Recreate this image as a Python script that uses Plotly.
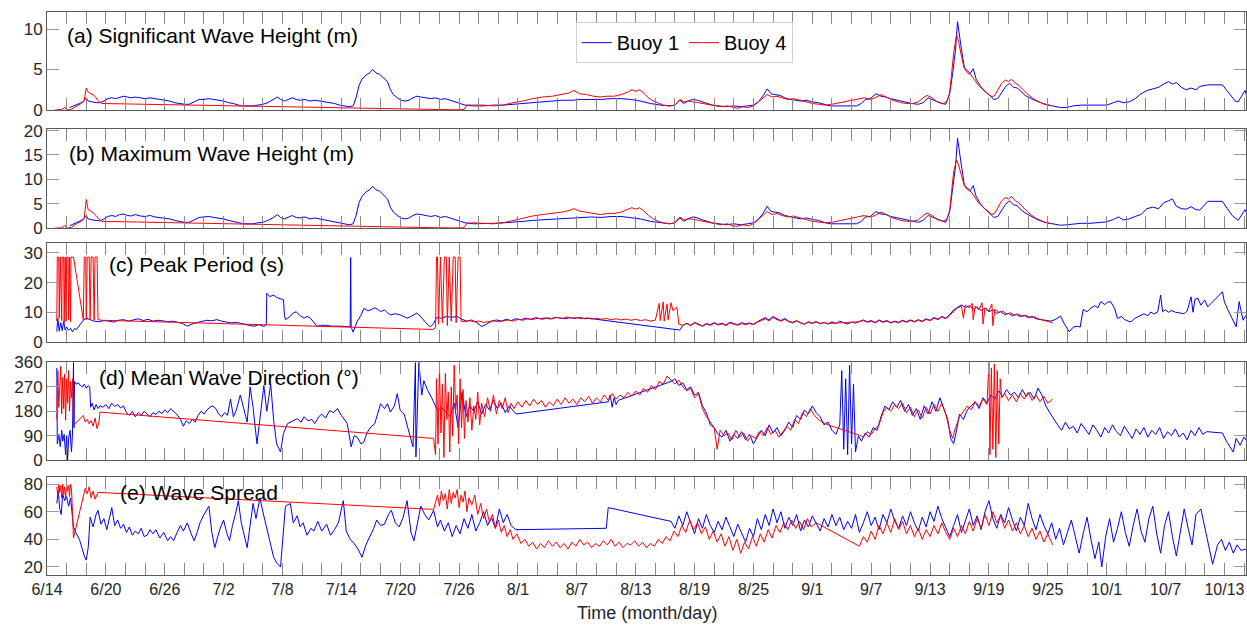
import plotly.graph_objects as go

# ---- time axis: days since 14 June ----
TICK_LABELS = ["6/14", "6/20", "6/26", "7/2", "7/8", "7/14", "7/20", "7/26", "8/1", "8/7",
               "8/13", "8/19", "8/25", "9/1", "9/7", "9/13", "9/19", "9/25", "10/1", "10/7", "10/13"]

# ---- (a) significant wave height (m): (day, value) ----
B1_HS = [(2.3,0.3),(2.8,0.6),(3.3,0.8),(3.7,1.0),(4.0,1.5),(4.2,1.1),(4.6,1.0),(5.0,0.9),(5.4,0.9),(5.8,1.1),
 (6.2,1.4),(6.6,1.5),(7.0,1.4),(7.4,1.6),(7.8,1.7),(8.2,1.6),(8.6,1.5),(9.0,1.6),(9.5,1.5),(10.0,1.4),
 (10.5,1.5),(11.0,1.4),(11.5,1.3),(12.0,1.2),(12.5,1.1),(13.0,0.9),(13.5,0.8),(14.0,0.7),(14.5,0.7),(15.0,1.0),
 (15.5,1.3),(16.0,1.3),(16.5,1.4),(17.0,1.3),(17.5,1.2),(18.0,1.1),(18.5,0.9),(19.0,0.8),(19.5,0.6),(20.0,0.5),
 (20.5,0.5),(21.0,0.5),(21.5,0.6),(22.0,0.7),(22.5,0.9),(23.0,1.2),(23.5,1.6),(23.8,1.3),(24.2,1.1),(24.6,1.3),
 (25.0,1.5),(25.4,1.3),(25.8,1.2),(26.3,1.3),(26.8,1.1),(27.3,1.2),(27.8,1.1),(28.3,1.0),(28.8,0.9),(29.3,0.8),
 (29.8,0.6),(30.3,0.5),(30.8,0.4),(31.2,0.5),(31.5,1.5),(31.8,3.0),(32.1,3.8),(32.5,4.3),(32.9,4.6),(33.2,5.0),
 (33.5,4.6),(33.9,4.4),(34.3,4.0),(34.7,3.5),(35.0,2.5),(35.3,1.9),(35.7,1.5),(36.1,1.2),(36.5,1.1),(36.9,1.2),
 (37.3,1.5),(37.7,1.7),(38.1,1.6),(38.6,1.5),(39.1,1.4),(39.6,1.5),(40.1,1.3),(40.6,1.4),(41.1,1.2),(41.6,1.0),
 (42.1,0.8),(42.6,0.6),(43.5,0.5),(44.5,0.5),(45.5,0.6),(46.5,0.6),(47.5,0.7),(48.5,0.8),(49.5,0.9),(50.5,1.0),
 (51.5,1.1),(52.5,1.2),(53.5,1.2),(54.5,1.3),(55.5,1.3),(56.5,1.3),(57.5,1.4),(58.5,1.4),(59.5,1.3),(60.5,1.1),
 (61.5,0.8),(62.5,0.6),(63.5,0.5),(64.0,0.6),(64.5,1.2),(64.9,0.8),(65.3,1.1),(65.8,1.3),(66.3,1.2),(66.8,1.0),
 (67.3,0.8),(67.8,0.6),(68.5,0.5),(69.2,0.4),(70.0,0.5),(70.7,0.4),(71.4,0.5),(72.0,0.6),(72.5,1.0),(73.0,1.8),
 (73.4,2.6),(73.8,2.0),(74.2,1.9),(74.7,1.8),(75.2,1.5),(75.7,1.3),(76.3,1.2),(76.8,1.1),(77.4,1.2),(78.0,1.0),
 (78.6,0.9),(79.2,0.7),(79.8,0.5),(80.5,0.5),(81.5,0.5),(82.5,0.5),(83.0,0.8),(83.4,1.3),(83.9,1.4),(84.5,2.0),
 (85.0,1.7),(85.5,1.6),(86.0,1.4),(86.7,1.2),(87.4,1.0),(88.1,0.8),(88.8,0.7),(89.3,0.9),(89.8,1.5),(90.2,1.3),
 (90.7,1.1),(91.2,0.8),(91.6,0.7),(92.0,2.0),(92.3,4.5),(92.6,7.5),(92.8,10.9),(93.0,9.0),(93.2,7.5),(93.5,5.2),
 (93.8,4.8),(94.1,4.5),(94.4,5.1),(94.7,3.8),(95.1,3.0),(95.5,2.4),(96.0,1.9),(96.5,1.3),(96.9,1.4),(97.3,2.2),
 (97.7,2.9),(98.1,3.3),(98.5,2.8),(98.9,2.7),(99.3,2.2),(99.7,1.8),(100.3,1.4),(101.0,1.0),(101.7,0.7),(102.5,0.5),
 (103.3,0.3),(103.9,0.3),(104.6,0.5),(105.4,0.6),(106.3,0.6),(107.2,0.6),(108.0,0.6),(108.7,0.9),(109.2,1.1),(109.7,0.9),
 (110.3,1.0),(110.9,1.4),(111.5,2.0),(112.1,2.4),(112.7,2.6),(113.3,2.8),(113.8,3.2),(114.3,3.5),(114.7,3.2),(115.1,3.4),
 (115.6,2.8),(116.1,2.5),(116.6,2.7),(117.1,2.5),(117.5,2.9),(118.3,3.1),(119.8,3.1),(120.2,2.5),(120.7,1.8),(121.1,1.1),
 (121.4,1.0),(121.8,1.9),(122.1,2.4),(122.3,1.7)]

B4_HS = [(0.8,0.0),(1.5,0.05),(1.8,0.3),(2.0,0.0),(2.5,0.1),(3.0,0.5),(3.5,0.8),(3.8,1.2),(4.0,2.7),(4.2,2.2),
 (4.5,2.0),(4.8,1.8),(5.0,1.5),(5.3,1.0),(5.6,0.8),(39.5,0.05),(40.5,0.0),(41.5,0.02),(42.5,0.05),(42.8,0.6),
 (43.5,0.6),(44.5,0.6),(45.5,0.5),(46.5,0.6),(47.5,0.9),(48.5,1.1),(49.5,1.4),(50.5,1.6),(51.5,1.7),(52.5,1.9),
 (53.2,2.1),(53.7,2.4),(54.3,2.0),(55.0,1.9),(55.7,1.7),(56.4,1.6),(57.1,1.7),(57.8,1.7),(58.5,1.9),(59.2,2.2),
 (59.6,2.5),(60.0,2.3),(60.4,2.5),(60.8,2.1),(61.3,1.5),(61.8,1.1),(62.3,0.8),(62.8,0.6),(63.4,0.5),(64.0,0.6),
 (64.5,1.3),(64.9,1.0),(65.4,1.1),(65.9,1.0),(66.4,0.9),(66.9,0.8),(67.5,0.6),(68.1,0.5),(68.7,0.4),(69.3,0.5),
 (69.9,0.3),(70.4,0.2),(70.9,0.4),(71.5,0.3),(72.0,0.5),(72.5,1.0),(73.0,1.6),(73.4,1.9),(73.9,1.6),(74.4,1.7),
 (74.9,1.5),(75.5,1.3),(76.1,1.4),(76.7,1.2),(77.3,1.0),(78.0,0.8),(78.7,0.7),(79.3,0.6),(80.0,0.7),(82.5,1.3),
 (83.3,1.5),(83.9,1.3),(84.4,1.5),(85.0,1.9),(85.5,1.6),(86.2,1.2),(87.0,0.9),(87.6,0.8),(88.2,0.8),(88.8,1.0),
 (89.3,1.5),(89.7,1.8),(90.2,1.5),(90.7,1.0),(91.3,0.8),(91.7,1.0),(92.0,2.1),(92.4,7.0),(92.7,9.3),(92.9,8.5),
 (93.2,6.6),(93.5,5.1),(93.8,4.6),(94.2,4.3),(94.6,3.6),(94.9,3.1),(95.4,2.5),(95.9,2.0),(96.3,1.6),(96.6,1.8),
 (96.9,2.5),(97.3,3.3),(97.7,3.7),(98.0,3.5),(98.3,3.8),(98.7,3.3),(99.0,3.1),(99.4,2.6),(99.9,2.0),(100.4,1.5),
 (100.9,1.1),(101.5,0.8),(102.0,0.6),(102.4,0.5)]

# ---- (b) maximum wave height (m) ----
B1_HMAX = [(2.3,0.5),(2.8,1.0),(3.3,1.4),(3.7,1.8),(4.0,2.6),(4.2,1.9),(4.6,1.7),(5.0,1.6),(5.4,1.5),(5.8,1.9),
 (6.2,2.4),(6.6,2.6),(7.0,2.4),(7.4,2.8),(7.8,2.9),(8.2,2.6),(8.6,2.5),(9.0,2.8),(9.5,2.5),(10.0,2.4),
 (10.5,2.6),(11.0,2.3),(11.5,2.2),(12.0,2.1),(12.5,1.9),(13.0,1.6),(13.5,1.4),(14.0,1.2),(14.5,1.2),(15.0,1.7),
 (15.5,2.2),(16.0,2.3),(16.5,2.4),(17.0,2.2),(17.5,2.1),(18.0,1.9),(18.5,1.6),(19.0,1.4),(19.5,1.1),(20.0,0.9),
 (20.5,0.9),(21.0,0.9),(21.5,1.1),(22.0,1.2),(22.5,1.6),(23.0,2.1),(23.5,2.8),(23.8,2.2),(24.2,1.9),(24.6,2.3),
 (25.0,2.6),(25.4,2.2),(25.8,2.1),(26.3,2.3),(26.8,1.9),(27.3,2.1),(27.8,1.9),(28.3,1.8),(28.8,1.6),(29.3,1.4),
 (29.8,1.1),(30.3,0.9),(30.8,0.7),(31.2,0.9),(31.5,2.6),(31.8,5.2),(32.1,6.5),(32.5,7.4),(32.9,7.9),(33.2,8.6),
 (33.5,7.9),(33.9,7.6),(34.3,6.9),(34.7,6.0),(35.0,4.3),(35.3,3.3),(35.7,2.6),(36.1,2.1),(36.5,1.9),(36.9,2.1),
 (37.3,2.6),(37.7,2.9),(38.1,2.8),(38.6,2.6),(39.1,2.4),(39.6,2.6),(40.1,2.2),(40.6,2.4),(41.1,2.1),(41.6,1.7),
 (42.1,1.4),(42.6,1.1),(43.5,0.9),(44.5,0.9),(45.5,1.0),(46.5,1.1),(47.5,1.2),(48.5,1.4),(49.5,1.6),(50.5,1.7),
 (51.5,1.9),(52.5,2.0),(53.5,2.1),(54.5,2.2),(55.5,2.3),(56.5,2.2),(57.5,2.4),(58.5,2.4),(59.5,2.2),(60.5,1.9),
 (61.5,1.4),(62.5,1.1),(63.5,0.9),(64.0,1.1),(64.5,2.1),(64.9,1.4),(65.3,1.9),(65.8,2.3),(66.3,2.1),(66.8,1.7),
 (67.3,1.4),(67.8,1.1),(68.5,0.9),(69.2,0.7),(70.0,0.9),(70.7,0.7),(71.4,0.9),(72.0,1.1),(72.5,1.8),(73.0,3.1),
 (73.4,4.5),(73.8,3.4),(74.2,3.3),(74.7,3.1),(75.2,2.6),(75.7,2.3),(76.3,2.1),(76.8,1.9),(77.4,2.1),(78.0,1.8),
 (78.6,1.6),(79.2,1.2),(79.8,0.9),(80.5,0.9),(81.5,0.9),(82.5,0.9),(83.0,1.4),(83.4,2.3),(83.9,2.4),(84.5,3.4),
 (85.0,2.9),(85.5,2.8),(86.0,2.4),(86.7,2.1),(87.4,1.7),(88.1,1.4),(88.8,1.2),(89.3,1.6),(89.8,2.6),(90.2,2.3),
 (90.7,1.9),(91.2,1.4),(91.6,1.2),(92.0,3.4),(92.3,7.7),(92.6,12.8),(92.8,18.4),(93.0,15.3),(93.2,12.8),(93.5,8.8),
 (93.8,8.2),(94.1,7.7),(94.4,8.7),(94.7,6.5),(95.1,5.1),(95.5,4.1),(96.0,3.2),(96.5,2.2),(96.9,2.4),(97.3,3.7),
 (97.7,4.9),(98.1,5.6),(98.5,4.8),(98.9,4.6),(99.3,3.7),(99.7,3.1),(100.3,2.4),(101.0,1.7),(101.7,1.2),(102.5,0.9),
 (103.3,0.6),(103.9,0.7),(104.6,0.9),(105.4,1.0),(106.3,1.0),(107.2,1.1),(108.0,1.3),(108.7,1.8),(109.2,2.3),(109.7,1.7),
 (110.3,1.9),(110.9,2.4),(111.5,2.8),(112.1,4.0),(112.7,4.3),(113.3,4.0),(113.8,5.2),(114.3,5.6),(114.7,6.0),(115.1,4.5),
 (115.6,4.0),(116.1,3.9),(116.6,4.4),(117.1,3.8),(117.5,3.7),(118.3,5.5),(119.8,5.5),(120.3,4.0),(120.8,2.6),(121.4,1.6),
 (121.8,3.0),(122.1,3.8),(122.3,3.0)]

B4_HMAX = [(0.8,0.0),(1.5,0.1),(1.8,0.6),(2.0,0.0),(2.5,0.2),(3.0,0.9),(3.5,1.4),(3.8,2.1),(4.0,5.9),(4.2,3.8),
 (4.5,3.5),(4.8,3.0),(5.0,2.6),(5.3,1.8),(5.6,1.4),(39.5,0.1),(40.5,0.0),(41.5,0.05),(42.5,0.1),(42.8,1.0),
 (43.5,1.1),(44.5,1.0),(45.5,0.9),(46.5,1.1),(47.5,1.6),(48.5,2.0),(49.5,2.5),(50.5,2.8),(51.5,3.0),(52.5,3.3),
 (53.2,3.6),(53.7,4.0),(54.3,3.5),(55.0,3.3),(55.7,3.0),(56.4,2.8),(57.1,3.0),(57.8,3.0),(58.5,3.3),(59.2,3.8),
 (59.6,4.2),(60.0,3.9),(60.4,4.2),(60.8,3.6),(61.3,2.6),(61.8,1.9),(62.3,1.4),(62.8,1.1),(63.4,0.9),(64.0,1.1),
 (64.5,2.3),(64.9,1.7),(65.4,1.9),(65.9,1.8),(66.4,1.6),(66.9,1.4),(67.5,1.1),(68.1,0.9),(68.7,0.7),(69.3,0.9),
 (69.9,0.5),(70.4,0.4),(70.9,0.7),(71.5,0.5),(72.0,0.9),(72.5,1.8),(73.0,2.8),(73.4,3.4),(73.9,2.8),(74.4,3.0),
 (74.9,2.6),(75.5,2.3),(76.1,2.5),(76.7,2.1),(77.3,1.8),(78.0,1.4),(78.7,1.2),(79.3,1.1),(80.0,1.2),(82.5,2.2),
 (83.3,2.6),(83.9,2.3),(84.4,2.6),(85.0,3.3),(85.5,2.8),(86.2,2.1),(87.0,1.6),(87.6,1.4),(88.2,1.4),(88.8,1.7),
 (89.3,2.6),(89.7,3.1),(90.2,2.6),(90.7,1.8),(91.3,1.4),(91.7,1.8),(92.0,3.6),(92.4,11.5),(92.7,14.0),(92.9,13.0),
 (93.2,10.8),(93.5,8.7),(93.8,7.9),(94.2,7.4),(94.6,6.2),(94.9,5.3),(95.4,4.3),(95.9,3.4),(96.3,2.8),(96.6,3.1),
 (96.9,4.3),(97.3,5.6),(97.7,6.3),(98.0,6.0),(98.3,6.5),(98.7,5.6),(99.0,5.3),(99.4,4.4),(99.9,3.4),(100.4,2.6),
 (100.9,1.9),(101.5,1.4),(102.0,1.0),(102.4,0.9)]

# ---- (c) peak period (s) ----
B1_TP = [(1.0,3.5),(1.1,8.0),(1.25,3.6),(1.4,6.5),(1.55,3.8),(1.7,7.0),(1.85,4.0),(2.0,5.0),(2.2,3.9),(2.4,4.6),
 (2.6,3.4),(2.8,4.5),(3.0,4.2),(3.2,5.0),(3.4,6.0),(3.7,7.3),(4.0,8.0),(4.4,7.4),(4.8,7.0),(5.3,6.8),
 (5.8,7.2),(6.3,7.0),(6.8,6.7),(7.3,7.3),(7.8,7.5),(8.3,7.0),(8.8,7.4),(9.3,7.8),(9.8,7.2),(10.3,7.6),
 (10.8,7.0),(11.3,7.3),(11.8,7.1),(12.3,6.8),(12.8,7.0),(13.3,6.6),(13.8,6.2),(14.3,5.3),(14.6,5.8),(14.9,6.2),
 (15.4,6.6),(15.9,7.0),(16.3,7.3),(16.8,7.1),(17.3,7.5),(17.8,7.0),(18.3,6.8),(18.8,6.4),(19.3,6.6),(19.7,6.2),
 (20.2,5.9),(20.7,5.5),(21.1,5.3),(21.6,5.8),(22.1,5.2),(22.35,5.8),(22.4,16.4),(22.7,15.3),(23.1,15.8),(23.4,15.0),
 (23.7,14.7),(24.1,14.2),(24.2,9.0),(24.3,7.5),(24.7,8.4),(25.1,9.7),(25.4,10.2),(25.8,8.8),(26.2,8.0),(26.5,8.6),
 (26.8,8.2),(27.1,7.0),(27.5,5.3),(28.0,5.6),(28.5,5.6),(29.0,5.3),(29.5,5.4),(29.9,5.3),(30.4,5.2),(30.9,5.1),
 (30.95,28.5),(31.0,5.0),(31.2,3.3),(31.6,6.8),(32.0,9.0),(32.3,11.3),(32.7,10.5),(33.0,10.8),(33.4,11.5),(33.7,11.0),
 (34.0,10.2),(34.4,10.8),(34.7,9.8),(35.0,9.1),(35.5,9.5),(36.0,9.1),(36.4,8.5),(36.7,8.0),(37.1,8.6),(37.7,9.7),
 (38.0,8.8),(38.4,7.3),(38.8,5.8),(39.1,5.1),(39.4,6.2),(39.7,8.2),(40.2,8.0),(40.7,8.6),(41.2,8.3),(41.8,8.6),
 (42.3,7.6),(42.8,7.0),(43.3,7.4),(43.8,6.5),(44.3,5.2),(44.8,6.0),(45.3,7.0),(45.8,7.4),(46.3,7.0),(46.8,7.6),
 (47.3,7.2),(47.8,7.8),(48.3,7.5),(48.8,8.0),(49.3,7.6),(49.8,8.2),(50.3,7.8),(50.8,8.1),(51.3,7.7),(51.8,8.3),
 (52.3,8.0),(52.8,7.8),(53.3,8.2),(53.8,7.9),(54.3,8.3),(54.8,7.8),(55.3,8.0),(55.8,7.7),(64.5,4.0),(64.8,5.5),
 (65.2,6.3),(65.6,5.6),(66.0,6.6),(66.4,6.0),(66.8,5.4),(67.2,6.2),(67.6,5.8),(68.0,6.5),(68.4,5.9),(68.8,6.3),
 (69.2,5.7),(69.6,6.6),(70.0,6.1),(70.4,5.8),(70.8,6.5),(71.2,6.0),(71.6,6.4),(72.0,5.9),(72.4,6.8),(72.8,7.5),
 (73.2,8.2),(73.6,7.4),(74.0,8.6),(74.4,7.8),(74.8,7.2),(75.2,7.9),(75.6,7.0),(76.0,6.6),(76.4,7.2),(76.8,6.5),
 (77.2,6.0),(77.6,6.8),(78.0,6.3),(78.4,6.9),(78.8,6.2),(79.2,6.6),(79.6,6.0),(80.0,6.8),(80.4,6.2),(80.8,7.0),
 (81.2,6.4),(81.6,6.0),(82.0,6.7),(82.4,6.3),(82.8,6.9),(83.2,7.4),(83.6,6.8),(84.0,7.2),(84.4,6.6),(84.8,7.4),
 (85.2,6.8),(85.6,7.2),(86.0,6.5),(86.4,7.0),(86.8,6.6),(87.2,7.3),(87.6,6.8),(88.0,7.4),(88.4,6.9),(88.8,7.5),
 (89.2,7.0),(89.6,7.8),(90.0,7.3),(90.4,8.2),(90.8,7.7),(91.2,8.6),(91.6,8.0),(92.0,9.2),(92.4,10.8),(92.8,11.8),
 (93.2,12.5),(93.6,11.6),(94.0,12.2),(94.4,11.0),(94.8,11.8),(95.2,10.6),(95.6,11.4),(96.0,10.2),(96.4,10.8),(96.8,9.6),
 (97.2,10.2),(97.6,9.2),(98.0,9.6),(98.4,8.8),(98.8,9.3),(99.2,8.5),(99.6,9.0),(100.0,8.2),(100.4,8.6),(100.8,7.8),
 (101.3,7.5),(101.8,7.2),(102.3,7.0),(102.8,7.6),(103.3,8.7),(103.7,6.0),(104.2,3.4),(104.6,5.0),(105.0,5.3),(105.3,5.0),
 (105.6,10.9),(106.0,10.2),(106.4,11.4),(106.8,12.2),(107.1,11.5),(107.4,13.6),(107.8,12.6),(108.1,13.4),(108.4,13.6),(108.8,11.4),
 (109.1,7.9),(109.5,8.6),(109.8,7.6),(110.2,7.0),(110.5,6.8),(110.8,7.8),(111.2,8.4),(111.5,9.0),(111.8,9.5),(112.2,8.8),
 (112.5,10.1),(112.8,9.4),(113.2,10.1),(113.5,15.8),(113.7,10.2),(114.0,10.8),(114.3,10.0),(114.6,10.6),(115.0,10.0),(115.4,9.8),
 (115.9,9.5),(116.2,10.4),(116.6,15.2),(116.8,10.0),(117.0,14.4),(117.3,14.7),(117.6,12.4),(118.0,14.1),(118.3,11.8),(119.8,16.9),
 (120.0,13.5),(120.4,10.5),(120.8,8.0),(121.2,5.1),(121.5,13.6),(121.9,7.3),(122.2,9.0)]

B4_TP = [(1.0,7.0),(1.05,28.6),(1.2,28.6),(1.25,8.0),(1.35,28.6),(1.5,7.2),(1.55,28.6),(1.7,28.6),(1.75,6.5),(1.85,28.6),
 (1.95,7.0),(2.0,28.6),(2.15,28.6),(2.2,7.5),(2.3,28.6),(2.4,6.8),(2.45,28.6),(2.7,28.6),(3.7,7.5),(3.8,28.6),
 (3.95,28.6),(4.0,7.5),(4.1,28.6),(4.3,28.6),(4.4,7.6),(4.5,28.6),(4.7,28.6),(4.8,7.4),(4.9,28.6),(5.1,28.6),
 (5.2,7.5),(5.6,7.3),(39.4,4.2),(39.6,5.0),(39.7,28.6),(39.8,28.6),(39.9,6.0),(40.1,28.6),(40.3,6.5),(40.5,28.6),
 (40.7,28.6),(40.8,5.5),(41.0,28.6),(41.2,7.0),(41.4,28.6),(41.6,28.6),(41.7,6.5),(41.9,28.6),(42.1,28.6),(42.2,7.0),
 (42.6,6.8),(43.0,7.2),(43.5,6.8),(44.0,7.0),(44.5,6.6),(45.0,6.9),(45.5,7.1),(46.0,6.8),(46.5,7.2),(47.0,7.4),
 (47.5,7.0),(48.0,7.6),(48.5,7.3),(49.0,7.8),(49.5,7.5),(50.0,8.0),(50.5,7.6),(51.0,8.1),(51.5,7.8),(52.0,8.3),
 (52.5,7.9),(53.0,8.4),(53.5,8.0),(54.0,8.2),(54.5,7.8),(55.0,8.1),(55.5,7.7),(56.0,8.0),(56.5,7.6),(57.0,7.9),
 (57.5,7.5),(58.0,7.8),(58.5,7.4),(59.0,7.7),(59.5,7.3),(60.0,7.6),(60.5,7.2),(61.0,7.5),(61.5,7.0),(62.0,7.3),
 (62.4,13.0),(62.5,7.2),(62.8,13.5),(62.9,7.0),(63.2,12.8),(63.3,7.4),(63.6,13.2),(63.8,10.5),(64.2,11.8),(64.4,6.0),
 (64.8,5.6),(65.2,6.2),(65.6,5.5),(66.0,6.4),(66.4,5.8),(66.8,5.3),(67.2,6.0),(67.6,5.6),(68.0,6.3),(68.4,5.7),
 (68.8,6.1),(69.2,5.5),(69.6,6.4),(70.0,5.9),(70.4,5.6),(70.8,6.2),(71.2,5.8),(71.6,6.2),(72.0,5.8),(72.4,6.6),
 (72.8,7.2),(73.2,7.8),(73.6,7.1),(74.0,8.2),(74.4,7.5),(74.8,7.0),(75.2,7.6),(75.6,6.8),(76.0,6.4),(76.4,7.0),
 (76.8,6.4),(77.2,6.0),(77.6,6.6),(78.0,6.2),(78.4,6.7),(78.8,6.1),(79.2,6.5),(79.6,6.2),(82.8,6.8),(83.2,7.2),
 (83.6,6.6),(84.0,7.0),(84.4,6.4),(84.8,7.2),(85.2,6.6),(85.6,7.0),(86.0,6.4),(86.4,6.8),(86.8,6.4),(87.2,7.1),
 (87.6,6.6),(88.0,7.2),(88.4,6.7),(88.8,7.3),(89.2,6.8),(89.6,7.6),(90.0,7.1),(90.4,8.0),(90.8,7.5),(91.2,8.4),
 (91.6,7.8),(92.0,9.0),(92.4,10.5),(92.8,11.5),(93.2,12.0),(93.4,8.0),(93.6,12.4),(94.0,11.5),(94.3,13.0),(94.4,7.5),
 (94.6,12.0),(95.0,10.8),(95.3,13.2),(95.4,6.0),(95.6,11.5),(96.0,10.5),(96.3,12.8),(96.4,5.5),(96.6,11.0),(97.0,10.0),
 (97.4,10.4),(97.8,9.4),(98.2,9.8),(98.6,9.0),(99.0,9.4),(99.4,8.6),(99.8,9.0),(100.2,8.2),(100.6,8.5),(101.0,7.8),
 (101.4,7.4),(101.8,7.0),(102.2,6.8),(102.5,6.5)]

# ---- (d) mean wave direction (deg) ----
B1_DIR = [(1.0,340),(1.05,60),(1.2,95),(1.35,50),(1.5,110),(1.6,70),(1.75,95),(1.9,20),(2.0,90),(2.1,0),
 (2.2,80),(2.35,110),(2.5,30),(2.6,100),(2.7,360),(2.75,120),(2.8,290),(3.0,280),(3.2,285),(3.4,275),
 (3.6,270),(3.8,280),(4.0,265),(4.2,275),(4.35,270),(4.45,195),(4.6,210),(4.8,185),(5.0,205),(5.2,190),
 (5.4,200),(5.7,195),(6.0,205),(6.3,190),(6.6,210),(6.9,198),(7.2,205),(7.5,192),(7.8,200),(8.1,175),
 (8.4,165),(8.7,180),(9.0,160),(9.3,175),(9.6,165),(9.9,180),(10.2,170),(10.5,160),(10.8,175),(11.1,168),
 (11.4,180),(11.7,172),(12.0,185),(12.3,175),(12.6,190),(12.9,180),(13.2,170),(13.6,150),(13.9,125),(14.2,145),
 (14.5,135),(14.8,150),(15.1,140),(15.4,165),(15.7,180),(16.0,170),(16.3,185),(16.6,195),(16.9,200),(17.2,190),
 (17.5,170),(17.8,160),(18.1,175),(18.4,165),(18.7,225),(19.0,160),(19.3,185),(19.7,240),(20.0,195),(20.4,140),
 (20.7,270),(21.0,195),(21.4,60),(21.7,150),(22.1,275),(22.4,180),(22.8,280),(23.1,147),(23.4,60),(23.8,30),
 (24.1,98),(24.5,134),(24.8,140),(25.2,150),(25.5,153),(25.9,140),(26.2,160),(26.6,145),(27.0,150),(27.3,135),
 (27.7,160),(28.0,170),(28.4,155),(28.8,183),(29.2,175),(29.6,190),(30.0,165),(30.6,135),(31.0,49),(31.3,90),
 (31.6,85),(32.0,60),(32.3,67),(32.6,100),(33.0,122),(33.4,134),(34.0,208),(34.4,190),(34.7,208),(35.0,177),
 (35.4,200),(35.7,245),(36.0,183),(36.4,170),(37.0,85),(37.3,49),(37.55,360),(37.6,12),(37.9,360),(38.2,240),
 (38.4,293),(38.8,257),(39.2,230),(39.8,183),(40.2,195),(40.7,177),(41.1,160),(41.5,210),(41.9,120),(42.3,250),
 (42.7,160),(43.1,200),(43.5,180),(43.9,215),(44.3,170),(44.7,205),(45.1,185),(45.5,220),(45.9,190),(46.3,210),
 (46.7,175),(47.1,200),(47.5,185),(47.8,170),(57.2,215),(57.4,240),(57.6,195),(57.8,230),(58.0,205),(58.2,220),
 (63.6,290),(64.0,300),(64.4,275),(64.8,285),(65.2,260),(65.6,270),(66.0,240),(66.4,250),(66.8,200),(67.2,175),
 (67.6,130),(68.0,120),(68.4,95),(68.8,85),(69.2,110),(69.6,70),(70.0,95),(70.4,80),(70.8,105),(71.2,75),
 (71.6,95),(72.0,60),(72.4,85),(72.8,110),(73.2,90),(73.6,130),(74.0,100),(74.4,120),(74.8,90),(75.2,110),
 (75.6,140),(76.0,120),(76.4,165),(76.8,150),(77.2,185),(77.6,170),(78.0,200),(78.4,175),(78.8,160),(79.2,130),
 (79.6,140),(80.0,110),(80.4,95),(80.8,130),(81.0,330),(81.2,40),(81.4,300),(81.6,20),(81.8,350),(82.0,60),
 (82.2,280),(82.4,30),(82.7,90),(83.0,70),(83.4,100),(83.8,85),(84.2,120),(84.6,110),(85.0,160),(85.4,200),
 (85.8,185),(86.2,215),(86.6,195),(87.0,220),(87.4,180),(87.8,205),(88.2,165),(88.6,190),(89.0,150),(89.4,200),
 (89.8,170),(90.2,215),(90.6,180),(91.0,230),(91.4,190),(91.8,150),(92.1,80),(92.4,60),(92.7,110),(93.0,170),
 (93.4,150),(93.8,185),(94.2,200),(94.6,215),(95.0,190),(95.4,230),(95.8,210),(96.2,240),(96.6,225),(97.0,255),
 (97.4,235),(97.8,260),(98.2,240),(98.6,250),(99.0,230),(99.4,260),(99.8,235),(100.2,250),(100.6,225),(101.0,265),
 (101.4,240),(101.8,200),(102.2,175),(102.6,150),(103.0,130),(103.4,110),(103.8,140),(104.2,115),(104.6,125),(105.0,100),
 (105.4,135),(105.8,115),(106.2,95),(106.6,130),(107.0,110),(107.4,85),(107.8,120),(108.2,100),(108.6,130),(109.0,105),
 (109.4,90),(109.8,125),(110.2,100),(110.6,80),(111.0,115),(111.4,95),(111.8,120),(112.2,85),(112.6,110),(113.0,95),
 (113.4,120),(113.8,80),(114.2,105),(114.6,90),(115.0,115),(115.4,85),(115.8,100),(116.2,75),(116.6,110),(117.0,90),
 (117.4,120),(117.8,95),(118.2,105),(119.8,100),(120.2,70),(120.6,45),(120.9,30),(121.2,80),(121.6,55),(122.0,85),
 (122.3,70)]

B4_DIR = [(1.0,150),(1.1,330),(1.2,195),(1.3,270),(1.4,345),(1.5,171),(1.6,306),(1.7,190),(1.8,318),(1.9,147),
 (2.0,300),(2.1,210),(2.2,330),(2.3,180),(2.4,290),(2.5,230),(2.6,300),(2.7,128),(3.7,165),(3.9,140),
 (4.1,150),(4.3,134),(4.5,146),(4.7,125),(4.9,155),(5.1,116),(5.3,140),(5.4,177),(39.4,80),(39.6,20),
 (39.7,300),(39.85,60),(40.0,340),(40.15,100),(40.3,280),(40.45,10),(40.6,320),(40.75,150),(40.9,250),(41.05,30),
 (41.2,270),(41.35,90),(41.5,350),(41.65,180),(41.8,240),(41.95,60),(42.1,300),(42.25,120),(42.4,260),(42.55,80),
 (42.7,220),(42.9,140),(43.1,230),(43.3,110),(43.5,200),(43.7,150),(43.9,250),(44.1,130),(44.3,210),(44.6,160),
 (44.9,230),(45.2,180),(45.5,240),(45.8,170),(46.1,220),(46.4,190),(46.7,230),(47.0,175),(47.3,210),(47.6,190),
 (48.0,215),(48.4,195),(48.8,220),(49.2,200),(49.6,225),(50.0,205),(50.4,220),(50.8,195),(51.2,215),(51.6,200),
 (52.0,225),(52.4,205),(52.8,230),(53.2,210),(53.6,225),(54.0,205),(54.4,230),(54.8,215),(55.2,235),(55.6,210),
 (56.0,230),(56.4,215),(56.8,240),(57.2,220),(57.6,245),(58.0,225),(58.4,240),(58.8,230),(59.2,250),(59.6,235),
 (60.0,255),(60.4,240),(60.8,265),(61.2,250),(61.6,275),(62.0,260),(62.4,290),(62.8,280),(63.2,310),(63.6,295),
 (64.0,280),(64.4,295),(64.8,270),(65.2,255),(65.6,265),(66.0,230),(66.4,245),(66.8,190),(67.2,160),(67.6,140),
 (68.0,120),(68.3,40),(68.6,110),(69.0,90),(69.4,100),(69.8,75),(70.2,110),(70.6,85),(71.0,100),(71.4,70),
 (71.8,90),(72.2,80),(72.6,105),(73.0,90),(73.4,120),(73.8,95),(74.2,110),(74.6,85),(75.0,105),(75.4,125),
 (75.8,110),(76.2,150),(76.6,135),(77.0,175),(77.4,160),(77.8,190),(78.2,165),(78.6,150),(79.0,140),(79.6,130),
 (82.8,92),(83.2,85),(83.6,105),(84.0,95),(84.4,115),(84.8,130),(85.2,175),(85.6,195),(86.0,180),(86.4,205),
 (86.8,190),(87.2,210),(87.6,175),(88.0,195),(88.4,160),(88.8,185),(89.2,155),(89.6,195),(90.0,170),(90.4,205),
 (90.8,180),(91.2,210),(91.6,170),(92.0,110),(92.3,80),(92.6,120),(93.0,160),(93.4,180),(93.8,200),(94.2,185),
 (94.6,215),(95.0,200),(95.4,225),(95.8,205),(96.0,360),(96.1,20),(96.25,340),(96.4,40),(96.55,355),(96.7,10),
 (96.85,330),(97.0,60),(97.15,300),(97.3,230),(97.6,245),(98.0,220),(98.4,240),(98.8,215),(99.2,245),(99.6,225),
 (100.0,250),(100.4,220),(100.8,240),(101.2,215),(101.6,235),(102.0,210),(102.5,225)]

# ---- (e) wave spread (deg) ----
B1_SPR = [(1.0,66),(1.15,75),(1.3,62),(1.45,58),(1.6,73),(1.8,68),(2.0,71),(2.2,64),(2.4,70),(2.7,49),
 (3.0,44),(3.3,40),(3.6,33),(3.8,28),(4.0,25),(4.2,34),(4.4,56),(4.7,49),(5.0,58),(5.2,61),
 (5.5,51),(5.8,55),(6.1,47),(6.4,58),(6.6,63),(6.9,50),(7.2,54),(7.5,48),(7.8,51),(8.1,45),
 (8.4,49),(8.7,43),(9.0,46),(9.3,44),(9.6,48),(9.9,42),(10.2,43),(10.5,47),(10.8,44),(11.1,47),
 (11.5,41),(11.9,45),(12.3,39),(12.6,42),(12.9,39),(13.2,44),(13.6,50),(13.9,46),(14.3,52),(14.7,44),
 (15.0,39),(15.3,45),(15.6,52),(16.0,58),(16.5,64),(16.8,45),(17.1,34),(17.4,42),(17.7,49),(18.0,54),
 (18.3,45),(18.6,39),(18.9,50),(19.2,58),(19.5,68),(19.8,52),(20.1,44),(20.4,34),(20.7,50),(21.0,66),
 (21.3,55),(21.7,70),(22.0,60),(22.4,49),(22.8,36),(23.1,27),(23.4,23),(23.8,20),(24.1,44),(24.3,64),
 (24.8,66),(25.1,52),(25.5,57),(25.8,49),(26.1,52),(26.5,43),(26.9,48),(27.2,46),(27.6,53),(28.0,46),
 (28.5,51),(28.9,43),(29.3,47),(29.7,52),(30.2,68),(30.5,46),(30.9,40),(31.3,37),(31.7,33),(32.1,27),
 (32.5,36),(32.9,42),(33.3,48),(33.6,54),(34.0,50),(34.4,51),(34.8,58),(35.1,61),(35.5,52),(35.9,49),
 (36.3,56),(36.7,68),(37.1,45),(37.4,39),(37.8,52),(38.1,64),(38.5,58),(38.9,54),(39.4,61),(39.8,49),
 (40.1,54),(40.5,46),(40.9,52),(41.3,42),(41.7,50),(42.1,44),(42.5,55),(42.9,48),(43.3,58),(43.7,46),
 (44.1,52),(44.5,60),(44.9,50),(45.3,56),(45.7,48),(46.1,62),(46.5,52),(46.9,58),(47.3,50),(47.8,47),
 (57.0,48),(57.2,63),(63.6,53),(64.0,48),(64.4,57),(64.8,50),(65.2,60),(65.6,52),(66.0,44),(66.4,55),
 (66.8,48),(67.2,58),(67.6,50),(68.0,45),(68.4,53),(68.8,47),(69.2,56),(69.6,49),(70.0,42),(70.4,51),
 (70.8,45),(71.2,38),(71.6,48),(72.0,42),(72.4,55),(72.8,47),(73.2,58),(73.6,50),(74.0,62),(74.4,52),
 (74.8,60),(75.2,48),(75.6,56),(76.0,50),(76.4,58),(76.8,46),(77.2,54),(77.6,49),(78.0,57),(78.4,51),
 (78.8,46),(79.2,55),(79.6,49),(80.0,58),(80.4,50),(80.8,56),(81.2,47),(81.6,53),(82.0,48),(82.4,58),
 (82.8,45),(83.2,52),(83.6,60),(84.0,50),(84.4,56),(84.8,47),(85.2,58),(85.6,52),(86.0,62),(86.4,53),
 (86.8,48),(87.2,57),(87.6,50),(88.0,60),(88.4,52),(88.8,46),(89.2,56),(89.6,49),(90.0,60),(90.4,53),
 (90.8,64),(91.2,55),(91.6,48),(92.0,42),(92.4,50),(92.8,58),(93.2,45),(93.6,54),(94.0,62),(94.4,50),
 (94.8,57),(95.2,47),(95.6,60),(96.0,68),(96.4,55),(96.8,48),(97.2,58),(97.6,52),(98.0,63),(98.4,54),
 (98.8,46),(99.2,56),(99.6,50),(100.0,66),(100.4,55),(100.8,47),(101.2,58),(101.6,50),(102.0,44),(102.4,52),
 (102.8,40),(103.2,48),(103.6,36),(104.0,45),(104.4,54),(104.8,42),(105.2,30),(105.6,44),(106.0,56),(106.4,40),
 (106.8,26),(107.2,38),(107.5,20),(107.9,42),(108.3,55),(108.7,38),(109.1,48),(109.5,60),(109.9,45),(110.3,35),
 (110.7,50),(111.1,62),(111.5,46),(111.9,38),(112.3,55),(112.7,64),(113.1,44),(113.5,30),(113.9,50),(114.3,60),
 (114.7,42),(115.1,28),(115.5,46),(115.9,62),(116.3,48),(116.7,36),(117.1,58),(117.6,62),(118.8,22),(119.3,36),
 (119.7,40),(120.1,32),(120.5,38),(120.9,30),(121.3,36),(121.7,32),(122.2,33)]

B4_SPR = [(1.0,78),(1.1,72),(1.2,80),(1.3,74),(1.4,79),(1.5,70),(1.6,80),(1.7,73),(1.8,78),(1.9,69),
 (2.0,80),(2.1,75),(2.2,79),(2.3,71),(2.4,80),(2.5,76),(2.7,41),(3.7,71),(3.9,77),(4.1,73),
 (4.3,78),(4.5,70),(4.7,75),(4.9,69),(5.2,74),(39.4,61.7),(39.6,66),(39.8,72),(40.0,64),(40.2,75),
 (40.4,68),(40.6,73),(40.8,62),(41.0,76),(41.2,66),(41.4,74),(41.6,70),(41.8,76),(42.0,63),(42.2,72),
 (42.4,67),(42.6,75),(42.8,60),(43.0,70),(43.3,65),(43.6,72),(43.9,58),(44.2,66),(44.5,55),(44.8,62),
 (45.1,52),(45.4,58),(45.7,48),(46.0,54),(46.3,45),(46.6,50),(46.9,42),(47.2,47),(47.5,40),(47.9,44),
 (48.3,37),(48.7,40),(49.1,35),(49.5,38),(49.9,33),(50.3,37),(50.7,34),(51.1,39),(51.5,35),(51.9,38),
 (52.3,34),(52.7,37),(53.1,33),(53.5,38),(53.9,35),(54.3,40),(54.7,36),(55.1,38),(55.5,34),(55.9,37),
 (56.3,35),(56.7,39),(57.1,36),(57.5,40),(57.9,35),(58.3,38),(58.7,34),(59.1,37),(59.5,36),(59.9,39),
 (60.3,35),(60.7,38),(61.1,34),(61.5,37),(61.9,35),(62.3,40),(62.7,37),(63.1,42),(63.5,39),(63.9,46),
 (64.3,42),(64.7,50),(65.1,45),(65.5,54),(65.9,47),(66.3,52),(66.7,44),(67.1,49),(67.5,40),(67.9,46),
 (68.3,38),(68.7,44),(69.1,35),(69.5,42),(69.9,32),(70.3,40),(70.7,30),(71.1,38),(71.5,33),(71.9,42),
 (72.3,35),(72.7,44),(73.1,38),(73.5,47),(73.9,41),(74.3,50),(74.7,45),(75.1,52),(75.5,47),(75.9,54),
 (76.3,48),(76.7,53),(77.1,47),(77.5,55),(77.9,49),(78.4,52),(82.8,35),(83.2,42),(83.6,38),(84.0,46),
 (84.4,40),(84.8,50),(85.2,44),(85.6,52),(86.0,45),(86.4,55),(86.8,47),(87.2,53),(87.6,44),(88.0,50),
 (88.4,42),(88.8,48),(89.2,40),(89.6,47),(90.0,42),(90.4,50),(90.8,44),(91.2,52),(91.6,45),(92.0,40),
 (92.4,48),(92.8,42),(93.2,50),(93.6,44),(94.0,53),(94.4,46),(94.8,55),(95.2,48),(95.6,58),(96.0,50),
 (96.4,60),(96.8,52),(97.2,57),(97.6,48),(98.0,54),(98.4,46),(98.8,52),(99.2,44),(99.6,50),(100.0,42),
 (100.4,48),(100.8,40),(101.2,46),(101.6,38),(102.0,44),(102.5,36)]

PANELS = [
    ("(a) Significant Wave Height (m)", B1_HS, B4_HS, [0, 12.1], [0, 5, 10]),
    ("(b) Maximum Wave Height (m)", B1_HMAX, B4_HMAX, [0, 20.3], [0, 5, 10, 15, 20]),
    ("(c) Peak Period (s)", B1_TP, B4_TP, [0, 33.4], [0, 10, 20, 30]),
    ("(d) Mean Wave Direction (°)", B1_DIR, B4_DIR, [0, 361], [0, 90, 180, 270, 360]),
    ("(e) Wave Spread", B1_SPR, B4_SPR, [14.2, 85.1], [20, 40, 60, 80]),
]
X_TITLE = "Time (month/day)"

# panel geometry (paper fractions) and title placement within each panel
DOMAINS = [(0.826, 1.0), (0.616, 0.792), (0.414, 0.590), (0.204, 0.378), (0.0, 0.174)]
TITLE_POS = [(0.015, 0.765), (0.017, 0.758), (0.050, 0.778), (0.042, 0.847), (0.059, 0.847)]

FONT = "Liberation Sans, Arial, sans-serif"
TXT = "#262626"
BLUE = "#0000FF"
RED = "#FF0000"
X_MAX = 122.2

tick_days = list(range(0, 123, 2))
tick_text = [TICK_LABELS[d // 6] if d % 6 == 0 and d // 6 < len(TICK_LABELS) else "" for d in tick_days]

fig = go.Figure()
layout = dict(
    width=1247, height=628,
    margin=dict(l=47, r=1, t=12, b=53),
    paper_bgcolor="white", plot_bgcolor="white",
    font=dict(family=FONT, color=TXT, size=16),
    showlegend=True,
    legend=dict(orientation="h", x=0.441, y=0.982, xanchor="left", yanchor="top",
                bgcolor="white", bordercolor="#d0d0d0", borderwidth=1,
                font=dict(family=FONT, size=20, color="black"),
                itemwidth=30, tracegroupgap=0),
    annotations=[],
)

for i, (title, b1, b4, yr, yt) in enumerate(PANELS):
    n = i + 1
    xa = "x" if n == 1 else f"x{n}"
    ya = "y" if n == 1 else f"y{n}"
    fig.add_trace(go.Scatter(x=[p[0] for p in b1], y=[p[1] for p in b1], mode="lines",
                             line=dict(color=BLUE, width=1), name="Buoy 1",
                             showlegend=(n == 1), xaxis=xa, yaxis=ya, cliponaxis=True))
    fig.add_trace(go.Scatter(x=[p[0] for p in b4], y=[p[1] for p in b4], mode="lines",
                             line=dict(color=RED, width=1), name="Buoy 4",
                             showlegend=(n == 1), xaxis=xa, yaxis=ya, cliponaxis=True))
    last = (n == len(PANELS))
    layout[f"xaxis{'' if n == 1 else n}"] = dict(
        domain=[0, 1], anchor=ya, range=[0, X_MAX],
        tickmode="array", tickvals=tick_days, ticktext=tick_text,
        showticklabels=last, ticks="inside", ticklen=12, tickwidth=1, tickcolor="#8a8a8a",
        showline=True, linecolor="#5a5a5a", linewidth=1, mirror="ticks",
        showgrid=False, zeroline=False, ticklabelstandoff=0,
        tickfont=dict(family=FONT, size=16, color=TXT),
        matches=None if n == 1 else "x",
    )
    layout[f"yaxis{'' if n == 1 else n}"] = dict(
        domain=list(DOMAINS[i]), anchor=xa, range=yr,
        tickmode="array", tickvals=yt,
        ticks="inside", ticklen=12, tickwidth=1, tickcolor="#9a9a9a",
        showline=True, linecolor="#5a5a5a", linewidth=1, mirror="ticks",
        showgrid=False, zeroline=False,
        tickfont=dict(family=FONT, size=17, color=TXT),
    )
    tx, ty = TITLE_POS[i]
    layout["annotations"].append(dict(
        text=title, xref=f"{xa} domain", yref=f"{ya} domain", x=tx, y=ty,
        xanchor="left", yanchor="middle", showarrow=False,
        font=dict(family=FONT, size=21, color="black")))

# shared time-axis title under the bottom panel
layout["annotations"].append(dict(
    text=X_TITLE, xref="paper", yref="paper", x=0.5, y=-0.0675,
    xanchor="center", yanchor="middle", showarrow=False,
    font=dict(family=FONT, size=18, color=TXT)))

fig.update_layout(**layout)
fig.write_html("out.html")
